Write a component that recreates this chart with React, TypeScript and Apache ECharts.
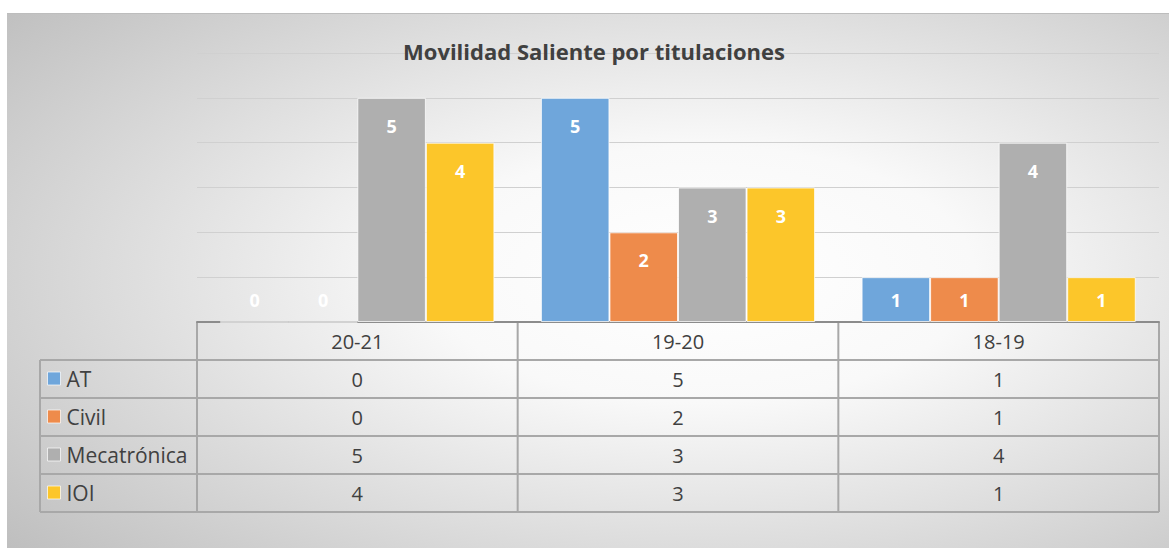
import React, { useEffect, useRef } from 'react';
import * as echarts from 'echarts';

const categories = ['20-21', '19-20', '18-19'];
const seriesNames = ['AT', 'Civil', 'Mecatrónica', 'IOI'];
const atValues = [0, 5, 1];
const civilValues = [0, 2, 1];
const mecaValues = [5, 3, 4];
const ioiValues = [4, 3, 1];
const seriesValues = [atValues, civilValues, mecaValues, ioiValues];
const yMin = 0;
const yMax = 6;
const yInterval = 1;
const colors = ['#6FA6DB', '#EE8B4B', '#AFAFAF', '#FCC62A'];

const W = 1169;
const H = 548;
const GL = 197;
const GR = 1159;
const GT = 53;
const GB = 322;
const ROW = 38;
const TL = 40;
const FONT = "'Open Sans', 'Noto Sans', sans-serif";
const TXT = '#404040';
const LINE = '#a8a8a8';

function labelFor(v: number) {
  if (v === 0) return { position: 'top', distance: 13 };
  if (v === 1) return { position: 'inside' };
  return { position: 'insideTop', distance: 19 };
}

export default function App() {
  const ref = useRef<HTMLDivElement>(null);
  useEffect(() => {
    document.body.style.margin = '0';
    if (!ref.current) return;
    const chart = echarts.init(ref.current, undefined, { renderer: 'svg' });
    const colW = (GR - GL) / categories.length;
    const tableBottom = GB + ROW * (seriesNames.length + 1);
    const graphics: any[] = [
      { type: 'rect', shape: { x: 0, y: 0, width: W, height: 13 }, style: { fill: '#ffffff' }, silent: true },
      { type: 'rect', shape: { x: 0, y: 0, width: 7, height: H }, style: { fill: '#ffffff' }, silent: true },
      { type: 'line', shape: { x1: 7, y1: 13.5, x2: W, y2: 13.5 }, style: { stroke: '#bdbdbd', lineWidth: 1 }, silent: true },
    ];
    for (let r = 1; r <= seriesNames.length + 1; r++) {
      const y = GB + ROW * r;
      graphics.push({ type: 'line', shape: { x1: TL, y1: y, x2: GR, y2: y }, style: { stroke: LINE, lineWidth: 2 }, silent: true });
    }
    graphics.push({ type: 'line', shape: { x1: TL, y1: GB + ROW, x2: TL, y2: tableBottom }, style: { stroke: LINE, lineWidth: 2 }, silent: true });
    for (let c = 0; c <= categories.length; c++) {
      const x = GL + colW * c;
      graphics.push({ type: 'line', shape: { x1: x, y1: GB, x2: x, y2: tableBottom }, style: { stroke: LINE, lineWidth: 2 }, silent: true });
    }
    seriesValues.forEach((vals, i) => {
      vals.forEach((v, j) => {
        graphics.push({
          type: 'text',
          x: GL + colW * (j + 0.5),
          y: GB + ROW * (i + 1.5),
          silent: true,
          style: { text: String(v), fill: TXT, font: `20px ${FONT}`, textAlign: 'center', textVerticalAlign: 'middle' },
        });
      });
    });

    chart.setOption({
      animation: false,
      backgroundColor: new echarts.graphic.RadialGradient(0.6, 0.5, 0.78, [
        { offset: 0, color: '#ffffff' },
        { offset: 0.3, color: '#f9f9f9' },
        { offset: 1, color: '#bebebe' },
      ]),
      title: {
        text: 'Movilidad Saliente por titulaciones',
        left: 594,
        textAlign: 'center',
        top: 40,
        padding: 0,
        textStyle: { fontFamily: FONT, fontSize: 22, fontWeight: 'bold', color: TXT },
      },
      legend: {
        data: seriesNames,
        orient: 'vertical',
        left: 47,
        top: 368,
        padding: 0,
        itemWidth: 13,
        itemHeight: 13,
        itemGap: 17,
        icon: 'rect',
        itemStyle: { borderColor: 'rgba(255,255,255,0.7)', borderWidth: 1 },
        textStyle: { fontFamily: FONT, fontSize: 21, color: TXT, padding: [0, 0, 0, 1] },
        selectedMode: false,
      },
      grid: { left: GL, right: W - GR, top: GT, bottom: H - GB, containLabel: false },
      xAxis: {
        type: 'category',
        data: categories,
        axisTick: { show: false },
        axisLine: { lineStyle: { color: '#8c8c8c', width: 2 } },
        axisLabel: { margin: 9, fontFamily: FONT, fontSize: 20, color: TXT },
      },
      yAxis: {
        type: 'value',
        min: yMin,
        max: yMax,
        interval: yInterval,
        axisLabel: { show: false },
        axisLine: { show: false },
        axisTick: { show: false },
        splitLine: { lineStyle: { color: '#d0d0d0', width: 1 } },
      },
      graphic: graphics,
      series: seriesNames.map((name, i) => ({
        name,
        type: 'bar',
        barGap: '0%',
        barCategoryGap: '14.5%',
        itemStyle: { color: colors[i], borderColor: 'rgba(255,255,255,0.75)', borderWidth: 1 },
        label: {
          show: true,
          color: '#ffffff',
          fontFamily: FONT,
          fontSize: 18,
          fontWeight: 'bold',
        },
        data: seriesValues[i].map((v) => ({ value: v, label: labelFor(v) })),
      })),
    });
    return () => chart.dispose();
  }, []);
  return <div ref={ref} style={{ width: W, height: H }} />;
}
